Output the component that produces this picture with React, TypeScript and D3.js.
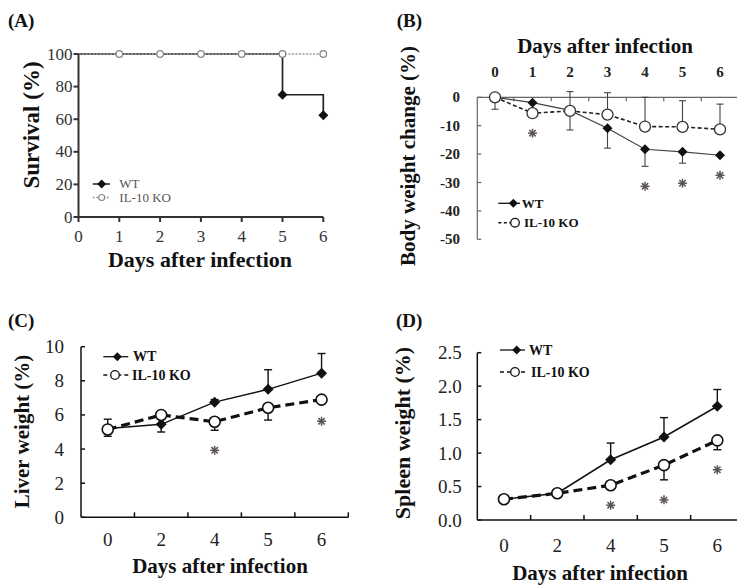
import React from 'react';
import * as d3 from 'd3';

const FONT = "'Liberation Serif', 'Times New Roman', serif";

// (A) survival
const survDays = [0, 1, 2, 3, 4, 5, 6];
const survWT = [100, 100, 100, 100, 100, 75, 62.5];
const survKO = [100, 100, 100, 100, 100, 100, 100];
const survWTMarks = [5, 6];
const survKOMarks = [1, 2, 3, 4, 5, 6];
const survTicks = [0, 20, 40, 60, 80, 100];

// (B) body weight change, error sign = direction of the bar
const bwDays = [0, 1, 2, 3, 4, 5, 6];
const bwWT = [0, -1.9, -4.6, -10.9, -18.3, -19.2, -20.4];
const bwWTErr = [-4.2, 0, -6.9, -7, -6, -4, 0];
const bwKO = [0, -5.6, -4.8, -6.1, -10.3, -10.4, -11.3];
const bwKOErr = [0, 0, 6.8, 7.7, 10.3, 9.2, 8.9];
const bwStars = [1, 4, 5, 6];
const bwTicks = [0, -10, -20, -30, -40, -50];

// (C) liver weight
const organDays = ['0', '2', '4', '5', '6'];
const liverWT = [5.2, 5.45, 6.75, 7.5, 8.45];
const liverWTErr = [0.55, -0.45, 0.15, 1.15, 1.15];
const liverKO = [5.15, 6.0, 5.6, 6.42, 6.9];
const liverKOErr = [-0.4, 0, -0.5, -0.72, -0.1];
const liverStars = ['4', '6'];
const liverTicks = [0, 2, 4, 6, 8, 10];

// (D) spleen weight
const spleenWT = [0.31, 0.4, 0.9, 1.24, 1.7];
const spleenWTErr = [0, 0, 0.25, 0.29, 0.25];
const spleenKO = [0.31, 0.4, 0.52, 0.82, 1.19];
const spleenKOErr = [0, 0, 0, -0.22, -0.14];
const spleenStars = ['4', '5', '6'];
const spleenTicks = [0, 0.5, 1, 1.5, 2, 2.5];

const diamond = (r) => `M0,${-r}L${r},0L0,${r}L${-r},0Z`;
const line = d3.line();

function ErrBar({ x, y0, y1, cap = 4, color = '#111', w = 1.4 }) {
  if (Math.abs(y1 - y0) < 0.5) return null;
  return (
    <g stroke={color} strokeWidth={w}>
      <line x1={x} x2={x} y1={y0} y2={y1} />
      <line x1={x - cap} x2={x + cap} y1={y1} y2={y1} />
    </g>
  );
}

function Star({ x, y, r = 4.5 }) {
  return (
    <g stroke="#5a5250" strokeWidth={1.5} transform={`translate(${x},${y})`}>
      {[0, 45, 90, 135].map(a => (
        <line key={a} x1={-r} x2={r} y1={0} y2={0} transform={`rotate(${a})`} />
      ))}
    </g>
  );
}

function Legend({ x, lineEnd, y1, y2, diamondX, circleX, textX, koTextX, wtText, koText, size = 14, koDash = '4,3', koW = 1.6, r = 4 }) {
  return (
    <g fontFamily={FONT} fontSize={size} fontWeight="bold" fill="#111">
      <line x1={x} x2={lineEnd} y1={y1} y2={y1} stroke="#111" strokeWidth={1.3} />
      <path d={diamond(4.5)} transform={`translate(${diamondX},${y1})`} fill="#111" />
      <text x={textX} y={y1 + size * 0.34}>{wtText}</text>
      <line x1={x} x2={lineEnd} y1={y2} y2={y2} stroke="#111" strokeWidth={koW} strokeDasharray={koDash} />
      <circle cx={circleX} cy={y2} r={r} fill="#fff" stroke="#111" strokeWidth={1.3} />
      <text x={koTextX} y={y2 + size * 0.34}>{koText}</text>
    </g>
  );
}

function PanelA() {
  const x = d3.scaleLinear().domain([0, 6]).range([78.5, 323.3]);
  const y = d3.scaleLinear().domain([0, 100]).range([217, 54]);
  const step = d3.line().curve(d3.curveStepAfter);
  const wtPts = survDays.map((d, i) => [x(d), y(survWT[i])]);
  const koPts = survDays.map((d, i) => [x(d), y(survKO[i])]);
  return (
    <g fontFamily={FONT}>
      <text x={8} y={27} fontSize={19} fontWeight="bold" fill="#111">(A)</text>
      <path d={step(wtPts)} fill="none" stroke="#222" strokeWidth={1.7} />
      <path d={line(koPts)} fill="none" stroke="#999" strokeWidth={1.7} strokeDasharray="2,1.5" />
      {survWTMarks.map(d => (
        <path key={d} d={diamond(5)} transform={`translate(${x(d)},${y(survWT[survDays.indexOf(d)])})`} fill="#111" />
      ))}
      {survKOMarks.map(d => (
        <circle key={d} cx={x(d)} cy={y(survKO[survDays.indexOf(d)])} r={3.3} fill="#fff" stroke="#888" strokeWidth={1.3} />
      ))}
      <g stroke="#333" strokeWidth={2}>
        <line x1={x(0)} x2={x(0)} y1={y(100)} y2={y(0)} />
        <line x1={x(0)} x2={x(6)} y1={y(0)} y2={y(0)} />
        {survTicks.map(t => <line key={t} x1={x(0) - 5} x2={x(0)} y1={y(t)} y2={y(t)} />)}
        {survDays.map(d => <line key={d} x1={x(d)} x2={x(d)} y1={y(0)} y2={y(0) + 5} />)}
      </g>
      <g fontSize={17} fill="#333">
        {survTicks.map(t => <text key={t} x={x(0) - 6} y={y(t) + 5.5} textAnchor="end">{t}</text>)}
        {survDays.map(d => <text key={d} x={x(d)} y={242} textAnchor="middle">{d}</text>)}
      </g>
      <text x={200} y={267} fontSize={22} fontWeight="bold" textAnchor="middle" fill="#111">Days after infection</text>
      <text transform="translate(39,125) rotate(-90)" fontSize={23} fontWeight="bold" textAnchor="middle" fill="#111">Survival (%)</text>
      <g fontSize={13} fill="#555">
        <line x1={92.7} x2={110} y1={184} y2={184} stroke="#222" strokeWidth={1.5} />
        <path d={diamond(4.5)} transform="translate(101.7,184)" fill="#111" />
        <text x={119.3} y={188}>WT</text>
        <line x1={92.7} x2={110} y1={197.5} y2={197.5} stroke="#999" strokeWidth={1.5} strokeDasharray="2,1.5" />
        <circle cx={101.7} cy={197.5} r={3} fill="#fff" stroke="#888" strokeWidth={1.2} />
        <text x={119.3} y={201.8}>IL-10 KO</text>
      </g>
    </g>
  );
}

function PanelB() {
  const x = d3.scaleLinear().domain([0, 6]).range([495, 720]);
  const y = d3.scaleLinear().domain([-50, 0]).range([239.3, 97.3]);
  const wtPts = bwDays.map((d, i) => [x(d), y(bwWT[i])]);
  const koPts = bwDays.map((d, i) => [x(d), y(bwKO[i])]);
  const x0 = 477.3;
  return (
    <g fontFamily={FONT}>
      <text x={396.7} y={27} fontSize={19} fontWeight="bold" fill="#111">(B)</text>
      <g stroke="#666" strokeWidth={1.2}>
        <line x1={x0} x2={737} y1={y(0)} y2={y(0)} />
        <line x1={x0} x2={x0} y1={y(0)} y2={y(-50)} />
        {bwTicks.map(t => <line key={t} x1={x0} x2={x0 + 4} y1={y(t)} y2={y(t)} />)}
        {bwDays.map(d => <line key={d} x1={x(d + 0.5)} x2={x(d + 0.5)} y1={y(0)} y2={y(0) + 4} />)}
      </g>
      <g fontSize={15} fontWeight="bold" fill="#222">
        {bwTicks.map(t => <text key={t} x={460} y={y(t) + 5} textAnchor="end">{t}</text>)}
        {bwDays.map(d => <text key={d} x={x(d)} y={76.7} textAnchor="middle">{d}</text>)}
      </g>
      <text x={605} y={53} fontSize={21} fontWeight="bold" textAnchor="middle" fill="#111">Days after infection</text>
      <text transform="translate(415,156) rotate(-90)" fontSize={21} fontWeight="bold" textAnchor="middle" fill="#111">Body weight change (%)</text>
      {bwDays.map((d, i) => (
        <g key={d}>
          <ErrBar x={x(d)} y0={y(bwWT[i])} y1={y(bwWT[i] + bwWTErr[i])} cap={3.5} color="#444" w={1.1} />
          <ErrBar x={x(d)} y0={y(bwKO[i])} y1={y(bwKO[i] + bwKOErr[i])} cap={3.5} color="#444" w={1.1} />
        </g>
      ))}
      <path d={line(wtPts)} fill="none" stroke="#444" strokeWidth={1.2} />
      <path d={line(koPts)} fill="none" stroke="#222" strokeWidth={1.6} strokeDasharray="4,2.5" />
      {bwDays.map((d, i) => (
        <path key={d} d={diamond(5)} transform={`translate(${x(d)},${y(bwWT[i])})`} fill="#111" />
      ))}
      {bwDays.map((d, i) => (
        <circle key={d} cx={x(d)} cy={y(bwKO[i])} r={5.5} fill="#fff" stroke="#333" strokeWidth={1.3} />
      ))}
      {bwStars.map(d => {
        const i = bwDays.indexOf(d);
        const low = Math.min(bwWT[i] + Math.min(0, bwWTErr[i]), bwKO[i] + Math.min(0, bwKOErr[i]));
        return <Star key={d} x={x(d)} y={y(low) + 20} />;
      })}
      <Legend x={498.3} lineEnd={520} y1={203.3} y2={222.7} diamondX={513.3} circleX={515} textX={521.7} koTextX={524} wtText="WT" koText="IL-10 KO" size={13} koDash="3,2.5" koW={1.4} r={4.3} />
    </g>
  );
}

function OrganPanel({ label, labelX, labelY, x0, x1, yDom, yRange, ticks, tickFmt, wt, wtErr, ko, koErr, stars, tickLabelX, tickLabelY, titleX, titleY, yLabel, yLabelX, yLabelY, yLabelSize, legend }) {
  const x = d3.scaleBand().domain(organDays).range([x0, x1]);
  const bw = x.bandwidth();
  const cx = d => x(d) + bw / 2;
  const y = d3.scaleLinear().domain(yDom).range(yRange);
  const wtPts = organDays.map((d, i) => [cx(d), y(wt[i])]);
  const koPts = organDays.map((d, i) => [cx(d), y(ko[i])]);
  const yTop = y(yDom[1]);
  const yBot = y(yDom[0]);
  return (
    <g fontFamily={FONT}>
      <text x={labelX} y={labelY} fontSize={19} fontWeight="bold" fill="#111">{label}</text>
      <g stroke="#111" strokeWidth={1.5}>
        <line x1={x0} x2={x0} y1={yTop} y2={yBot} />
        <line x1={x0} x2={x1} y1={yBot} y2={yBot} />
        {ticks.map(t => <line key={t} x1={x0} x2={x0 + 4} y1={y(t)} y2={y(t)} />)}
        {organDays.map(d => <line key={d} x1={x(d) + bw} x2={x(d) + bw} y1={yBot} y2={yBot - 5} />)}
      </g>
      <g fontSize={19} fill="#222">
        {ticks.map(t => <text key={t} x={tickLabelX} y={y(t) + 6.5} textAnchor="end">{tickFmt(t)}</text>)}
        {organDays.map(d => <text key={d} x={cx(d)} y={tickLabelY} textAnchor="middle">{d}</text>)}
      </g>
      <text x={titleX} y={titleY} fontSize={21} fontWeight="bold" textAnchor="middle" fill="#111">Days after infection</text>
      <text transform={`translate(${yLabelX},${yLabelY}) rotate(-90)`} fontSize={yLabelSize} fontWeight="bold" textAnchor="middle" fill="#111">{yLabel}</text>
      {organDays.map((d, i) => (
        <g key={d}>
          <ErrBar x={cx(d)} y0={y(wt[i])} y1={y(wt[i] + wtErr[i])} />
          <ErrBar x={cx(d)} y0={y(ko[i])} y1={y(ko[i] + koErr[i])} />
        </g>
      ))}
      <path d={line(wtPts)} fill="none" stroke="#111" strokeWidth={1.5} />
      <path d={line(koPts)} fill="none" stroke="#111" strokeWidth={3.2} strokeDasharray="9,5" />
      {organDays.map((d, i) => (
        <path key={d} d={diamond(5.5)} transform={`translate(${cx(d)},${y(wt[i])})`} fill="#111" />
      ))}
      {organDays.map((d, i) => (
        <circle key={d} cx={cx(d)} cy={y(ko[i])} r={5.5} fill="#fff" stroke="#111" strokeWidth={1.6} />
      ))}
      {stars.map(d => {
        const i = organDays.indexOf(d);
        const low = Math.min(wt[i] + Math.min(0, wtErr[i]), ko[i] + Math.min(0, koErr[i]));
        return <Star key={d} x={cx(d)} y={y(low) + 20} />;
      })}
      <Legend {...legend} wtText="WT" koText="IL-10 KO" size={14} koDash="4,3" koW={1.6} r={4.3} />
    </g>
  );
}

export default function App() {
  return (
    <svg width={737} height={585} style={{ position: 'absolute', left: 0, top: 0, background: '#fff' }}>
      <rect width={737} height={585} fill="#fff" />
      <PanelA />
      <PanelB />
      <OrganPanel
        label="(C)" labelX={8} labelY={326.7}
        x0={81} x1={348.3} yDom={[0, 10]} yRange={[517.3, 346.7]}
        ticks={liverTicks} tickFmt={t => String(t)}
        wt={liverWT} wtErr={liverWTErr} ko={liverKO} koErr={liverKOErr} stars={liverStars}
        tickLabelX={64} tickLabelY={546} titleX={220} titleY={573}
        yLabel="Liver weight (%)" yLabelX={29} yLabelY={431.5} yLabelSize={21}
        legend={{ x: 103.3, lineEnd: 128.3, y1: 356.7, y2: 375, diamondX: 117.3, circleX: 115, textX: 133, koTextX: 132 }}
      />
      <OrganPanel
        label="(D)" labelX={396} labelY={326.7}
        x0={477.3} x1={744} yDom={[0, 2.5]} yRange={[520, 352.7]}
        ticks={spleenTicks} tickFmt={t => d3.format('.1f')(t)}
        wt={spleenWT} wtErr={spleenWTErr} ko={spleenKO} koErr={spleenKOErr} stars={spleenStars}
        tickLabelX={461.7} tickLabelY={551.5} titleX={600} titleY={580}
        yLabel="Spleen weight (%)" yLabelX={410} yLabelY={433} yLabelSize={22}
        legend={{ x: 500, lineEnd: 525, y1: 350, y2: 372, diamondX: 516.7, circleX: 515, textX: 529, koTextX: 531 }}
      />
    </svg>
  );
}
